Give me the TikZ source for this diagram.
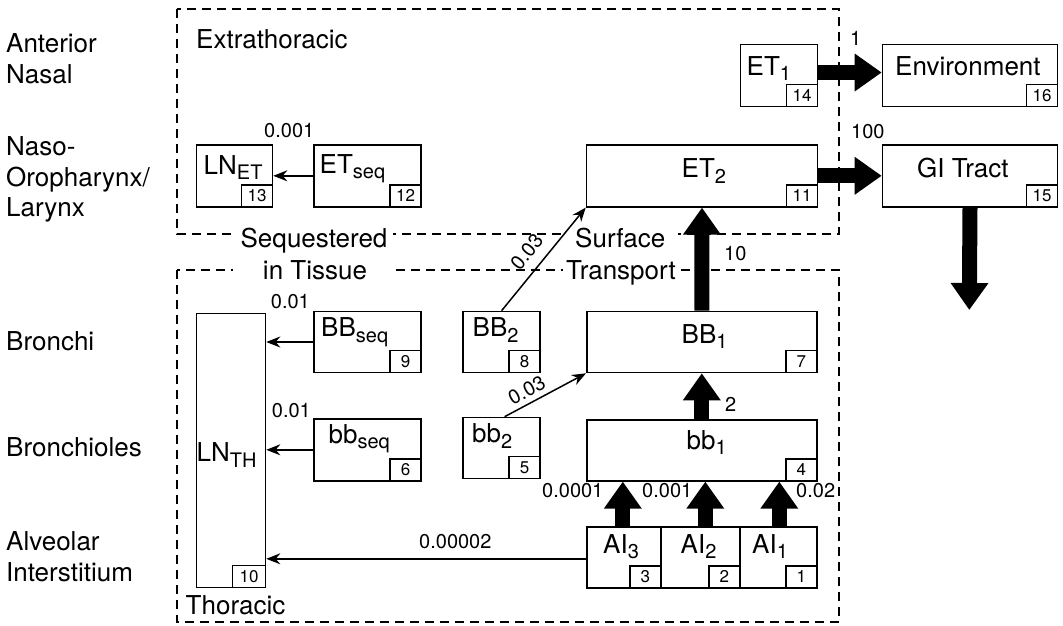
\documentclass[tikz,border=0pt]{standalone}
\usepackage{fontspec}
\setmainfont{TeX Gyre Heros}
\usetikzlibrary{arrows.meta,calc}
\newcommand\sbs[1]{\raisebox{-5.5pt}{\fontsize{20}{20}\selectfont #1}}
\begin{document}
\begin{tikzpicture}[x=1pt,y=-1pt,
  cbox/.style={draw, line width=1.6pt, inner sep=0, anchor=north west, minimum height=62pt},
  nbox/.style={draw, line width=1.6pt, inner sep=0, minimum width=31pt, minimum height=22pt, anchor=south east, font=\fontsize{17}{17}\selectfont},
  rlab/.style={inner sep=0, anchor=base west, font=\fontsize{26}{26}\selectfont},
  elab/.style={inner sep=0, anchor=base west, font=\fontsize{20}{20}\selectfont},
  slab/.style={inner sep=0, font=\fontsize{20}{20}\selectfont},
  dregion/.style={draw, line width=1.2pt, dash pattern=on 9pt off 6pt},
  tarrow/.style={line width=1.5pt, -{Stealth[length=14pt,width=11pt]}},
  barrow/.style={line width=15pt, -{Triangle[width=36pt,length=27pt]}},
]
\useasboundingbox (0,0) rectangle (1063,625);

% regions
\draw[dregion] (177,9) rectangle (839,234);
\draw[dregion] (177,270) rectangle (839,622);
\fill[white] (233,226) rectangle (393,286);
\fill[white] (563,226) rectangle (678,286);

% row labels
\node[rlab] (r1a) at (6,52.7) {Anterior};
\node[rlab] (r1b) at (6,83.3) {Nasal};
\node[rlab] (r2a) at (6,155.7) {Naso-};
\node[rlab] (r2b) at (6,186.2) {Oropharynx/};
\node[rlab] (r2c) at (6,216.7) {Larynx};
\node[rlab] (r3) at (6,350) {Bronchi};
\node[rlab] (r4) at (6,456.7) {Bronchioles};
\node[rlab] (r5a) at (6,550) {Alveolar};
\node[rlab] (r5b) at (6,581) {Interstitium};

% region labels
\node[rlab] (extra) at (196,48.3) {Extrathoracic};
\node[rlab] (thor) at (185.5,614) {Thoracic};
\node[rlab, anchor=base] (seq1) at (314,247.3) {Sequestered};
\node[rlab, anchor=base] (seq2) at (315,279.3) {in Tissue};
\node[rlab] (sur1) at (575,247.3) {Surface};
\node[rlab] (sur2) at (566,279.3) {Transport};

% boxes
\node[cbox, minimum width=76pt] (LNET) at (195.7,144) {};
\node[cbox, minimum width=107pt] (ETseq) at (313.3,144) {};
\node[cbox, minimum width=231pt] (ET2) at (585.7,144) {};
\node[cbox, minimum width=77pt] (ET1) at (739.7,43.7) {};
\node[cbox, minimum width=175pt] (Env) at (881.7,43.7) {};
\node[cbox, minimum width=175pt] (GI) at (881.7,144) {};
\node[cbox, minimum width=69pt, minimum height=274pt] (LNTH) at (195.7,312.7) {};
\node[cbox, minimum width=107pt, minimum height=61pt] (BBseq) at (313.3,310.7) {};
\node[cbox, minimum width=107pt] (bbseq) at (313.3,418) {};
\node[cbox, minimum width=77pt, minimum height=61pt] (BB2) at (462.3,310.7) {};
\node[cbox, minimum width=77pt, minimum height=61pt] (bb2) at (462.3,416.7) {};
\node[cbox, minimum width=230pt, minimum height=61pt] (BB1) at (586,310.7) {};
\node[cbox, minimum width=230pt, minimum height=61pt] (bb1) at (586,419) {};
\node[cbox, minimum width=74pt, minimum height=61pt] (AI3) at (586,526) {};
\node[cbox, minimum width=79pt, minimum height=61pt] (AI2) at (660,526) {};
\node[cbox, minimum width=77pt, minimum height=61pt] (AI1) at (739,526) {};

% number boxes
\node[nbox] (LNETn) at (LNET.south east) {13};
\node[nbox] (ETseqn) at (ETseq.south east) {12};
\node[nbox] (ET2n) at (ET2.south east) {11};
\node[nbox] (ET1n) at (ET1.south east) {14};
\node[nbox] (Envn) at (Env.south east) {16};
\node[nbox] (GIn) at (GI.south east) {15};
\node[nbox, minimum width=33pt] (LNTHn) at (LNTH.south east) {10};
\node[nbox] (BBseqn) at (BBseq.south east) {9};
\node[nbox] (bbseqn) at (bbseq.south east) {6};
\node[nbox] (BB2n) at (BB2.south east) {8};
\node[nbox] (bb2n) at (bb2.south east) {5};
\node[nbox] (BB1n) at (BB1.south east) {7};
\node[nbox] (bb1n) at (bb1.south east) {4};
\node[nbox] (AI3n) at (AI3.south east) {3};
\node[nbox] (AI2n) at (AI2.south east) {2};
\node[nbox] (AI1n) at (AI1.south east) {1};

% box labels
\node[rlab] (LNETt) at (203.5,174) {LN\sbs{ET}};
\node[rlab] (ETseqt) at (319.5,173.3) {ET\sbs{seq}};
\node[rlab] (ET2t) at (681.5,177.7) {ET\sbs{2}};
\node[rlab] (ET1t) at (746.5,75) {ET\sbs{1}};
\node[rlab] (Envt) at (895,75) {Environment};
\node[rlab] (GIt) at (917,177.7) {GI Tract};
\node[rlab] (LNTHt) at (196.5,461.7) {LN\sbs{TH}};
\node[rlab] (BBseqt) at (321,336.7) {BB\sbs{seq}};
\node[rlab] (bbseqt) at (328.5,443.3) {bb\sbs{seq}};
\node[rlab] (BB2t) at (472.5,336.7) {BB\sbs{2}};
\node[rlab] (bb2t) at (472,442.7) {bb\sbs{2}};
\node[rlab] (BB1t) at (681.5,343.3) {BB\sbs{1}};
\node[rlab] (bb1t) at (686.5,449.3) {bb\sbs{1}};
\node[rlab] (AI3t) at (603,553.3) {AI\sbs{3}};
\node[rlab] (AI2t) at (680.5,553.3) {AI\sbs{2}};
\node[rlab] (AI1t) at (752,553.3) {AI\sbs{1}};

% thick arrows
\coordinate (GIend) at (969.3,310);
\draw[barrow] ([yshift=3pt]ET1.east) -- ([yshift=3pt]ET1.east -| Env.west);
\draw[barrow] (ET2.east) -- (ET2.east -| GI.west);
\draw[barrow] (GI.south) -- (GIend);
\draw[barrow] (BB1.north) -- (ET2.south);
\draw[barrow] (bb1.north) -- (BB1.south);
\draw[barrow] ([xshift=-1pt]AI3.north) -- ([xshift=-1pt]AI3.north |- bb1.south);
\draw[barrow] ([xshift=5pt]AI2.north) -- ([xshift=5pt]AI2.north |- bb1.south);
\draw[barrow] ([xshift=1pt]AI1.north) -- ([xshift=1pt]AI1.north |- bb1.south);

% thin arrows
\draw[tarrow] (ETseq.west) -- (ETseq.west -| LNET.east);
\draw[tarrow] (BBseq.west) -- (BBseq.west -| LNTH.east);
\draw[tarrow] (bbseq.west) -- (bbseq.west -| LNTH.east);
\draw[tarrow] ([yshift=-1.5pt]AI3.west) -- ([yshift=-1.5pt]AI3.west -| LNTH.east);
\draw[tarrow] (BB2.north) -- (ET2.south west);
\draw[tarrow] ([xshift=3pt]bb2.north) -- (BB1.south west);

% edge labels
\node[elab] (k1) at (264,137.3) {0.001};
\node[elab] (k2) at (270.7,308) {0.01};
\node[elab] (k3) at (271.7,417.7) {0.01};
\node[elab] (k4) at (419,548.3) {0.00002};
\node[elab] (k5) at (542,497.5) {0.0001};
\node[elab] (k6) at (642,497.5) {0.001};
\node[elab] (k7) at (796,497.5) {0.02};
\node[elab] (k8) at (725,411.7) {2};
\node[elab] (k9) at (724,260.7) {10};
\node[elab] (k10) at (850,45) {1};
\node[elab] (k11) at (851,138) {100};
\node[slab, rotate=50.8] (k12) at (526.7,252) {0.03};
\node[slab, rotate=28.4] (k13) at (526.7,390) {0.03};
\end{tikzpicture}
\end{document}
